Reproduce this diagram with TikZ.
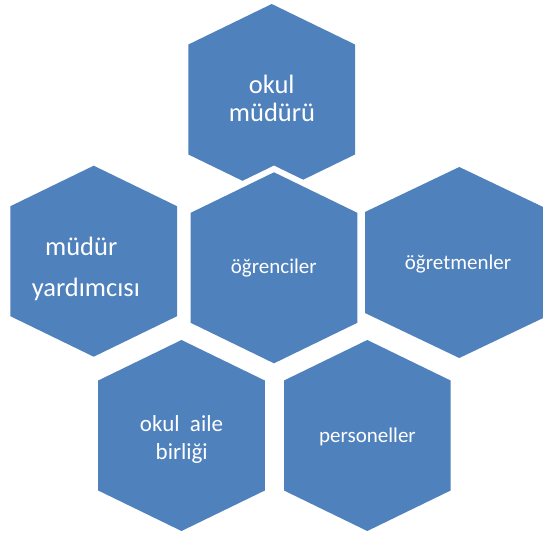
\documentclass[tikz,border=0pt]{standalone}
\usepackage{fontspec}
\setmainfont{Carlito}
\definecolor{hexblue}{HTML}{4F81BD}
\tikzset{
  hexhalo/.style={draw=white,line width=12pt,line join=miter},
  hexfill/.style={fill=hexblue},
  lbl/.style={text=white, anchor=base, inner sep=0pt},
  big/.style={lbl, font=\fontsize{26.5}{30}\selectfont},
  small/.style={lbl, font=\fontsize{21}{25}\selectfont},
  mid/.style={lbl, font=\fontsize{23}{27}\selectfont}
}
% #1 cx, #2 top, #3 half width, #4 tip height, #5 side length
\newcommand\hexagonshape[5]{%
  \path[hexhalo] (#1,#2) -- ++(#3,#4) -- ++(0,#5) -- ++(-#3,#4) -- ++(-#3,-#4) -- ++(0,-#5) -- cycle;
  \path[hexfill] (#1,#2) -- ++(#3,#4) -- ++(0,#5) -- ++(-#3,#4) -- ++(-#3,-#4) -- ++(0,-#5) -- cycle;
}
\begin{document}
\begin{tikzpicture}[x=1pt,y=-1pt]
\useasboundingbox (0,0) rectangle (543,535);
\clip (0,0) rectangle (543,535);
\hexagonshape{271.7}{4}{83.3}{40.5}{110}
\hexagonshape{93.7}{165.7}{83.3}{40.5}{110}
\hexagonshape{274}{172.3}{83.3}{40.5}{110}
\hexagonshape{459.3}{167}{94.3}{45}{101}
\hexagonshape{181.5}{340}{83.3}{40.5}{110}
\hexagonshape{367.3}{340}{83.3}{40.5}{110}
\node[big] (m1) at (271.7,93.3) {okul};
\node[big] (m2) at (272,121.7) {müdürü};
\node[big] (y1) at (81.2,255.7) {müdür};
\node[big] (y2) at (85.8,296.7) {yardımcısı};
\node[small] (og) at (273.8,273.3) {öğrenciler};
\node[small] (ot) at (458,269) {öğretmenler};
\node[mid] (a1) at (181.5,431.7) {okul\ \ aile};
\node[mid] (a2) at (181.7,459.3) {birliği};
\node[small] (p) at (367.5,442.7) {personeller};
\end{tikzpicture}
\end{document}
